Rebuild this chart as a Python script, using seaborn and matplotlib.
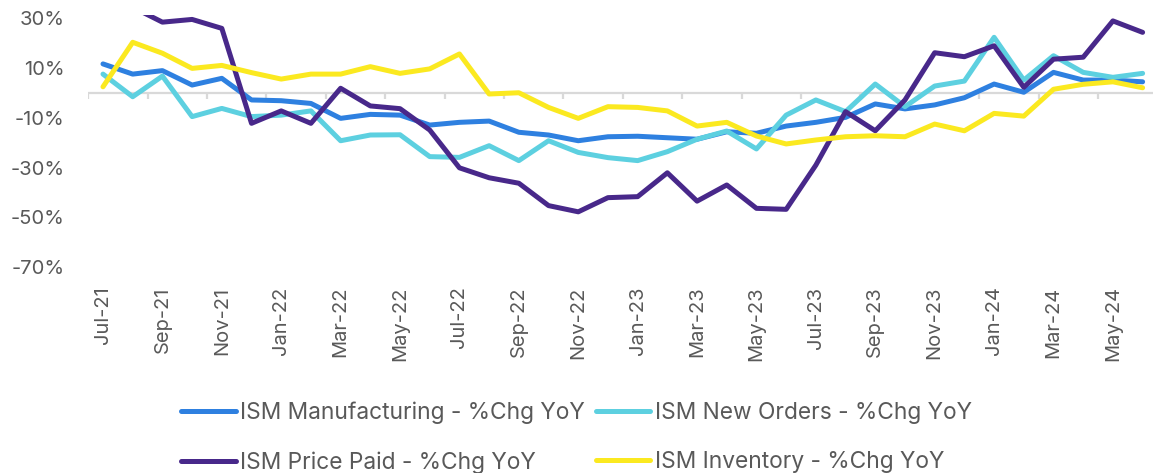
import matplotlib
matplotlib.use("Agg")
import matplotlib.pyplot as plt
import seaborn as sns
import pandas as pd
import numpy as np

months = ["Jul-21","Aug-21","Sep-21","Oct-21","Nov-21","Dec-21",
          "Jan-22","Feb-22","Mar-22","Apr-22","May-22","Jun-22",
          "Jul-22","Aug-22","Sep-22","Oct-22","Nov-22","Dec-22",
          "Jan-23","Feb-23","Mar-23","Apr-23","May-23","Jun-23",
          "Jul-23","Aug-23","Sep-23","Oct-23","Nov-23","Dec-23",
          "Jan-24","Feb-24","Mar-24","Apr-24","May-24","Jun-24"]

manufacturing = [11.7, 7.6, 9.0, 3.2, 5.9, -2.8, -3.1, -4.2, -10.2, -8.6, -8.9, -12.9,
                 -11.8, -11.3, -15.8, -16.9, -19.2, -17.6, -17.4, -18.0, -18.6, -15.6, -16.2, -13.3,
                 -11.8, -9.8, -4.4, -6.4, -4.8, -1.9, 3.6, 0.3, 8.3, 5.2, 5.2, 4.5]
new_orders = [7.6, -1.5, 6.8, -9.5, -6.2, -9.5, -8.9, -7.2, -19.2, -16.9, -16.8, -25.6,
              -25.9, -21.2, -27.2, -19.2, -23.9, -26.0, -27.2, -23.6, -18.6, -15.3, -22.5, -8.9,
              -2.8, -7.5, 3.6, -5.5, 2.8, 4.8, 22.4, 5.2, 15.0, 8.3, 6.3, 7.9]
price_paid = [45.0, 34.5, 28.5, 29.6, 26.0, -12.2, -7.2, -12.2, 1.9, -5.2, -6.3, -14.9,
              -30.1, -34.1, -36.3, -45.3, -47.8, -42.1, -41.7, -32.1, -43.5, -37.0, -46.4, -46.8,
              -29.0, -7.5, -15.2, -2.8, 16.2, 14.6, 19.0, 2.3, 13.6, 14.4, 29.0, 24.4]
inventory = [2.5, 20.4, 16.0, 9.9, 11.1, 8.2, 5.6, 7.6, 7.6, 10.6, 7.9, 9.7,
             15.7, -0.4, 0.1, -5.8, -10.2, -5.5, -5.8, -7.2, -13.3, -11.8, -17.3, -20.5,
             -18.9, -17.6, -17.2, -17.6, -12.5, -15.2, -8.2, -9.3, 1.5, 3.5, 4.5, 2.1]

series_names = ["ISM Manufacturing - %Chg YoY", "ISM New Orders - %Chg YoY",
                "ISM Price Paid - %Chg YoY", "ISM Inventory - %Chg YoY"]
series_values = [manufacturing, new_orders, price_paid, inventory]
colors = ["#2E80E0", "#5DD0E0", "#48288A", "#FBE920"]

y_ticks = [30, 10, -10, -30, -50, -70]

frames = []
for name, vals in zip(series_names, series_values):
    frames.append(pd.DataFrame({"idx": np.arange(len(months)), "value": vals, "series": name}))
df = pd.concat(frames, ignore_index=True)

sns.set_style("white")
plt.rcParams["font.family"] = ["Inter", "DejaVu Sans"]

W, H = 1153, 473
fig = plt.figure(figsize=(W / 100, H / 100), dpi=100)
left_px, right_px, top_px, bottom_px = 88.15, 1153, 14.7, 267
ax = fig.add_axes([left_px / W, 1 - bottom_px / H, (right_px - left_px) / W, (bottom_px - top_px) / H])

sns.lineplot(data=df, x="idx", y="value", hue="series", hue_order=series_names,
             palette=colors, linewidth=3.6, ax=ax, legend=False, sort=False, zorder=3)
for ln in ax.get_lines():
    ln.set_solid_capstyle("round")
    ln.set_solid_joinstyle("round")

ax.set_xlim(-0.5, 35.35)
ax.set_ylim(-70, 31.5)

ax.set_yticks(y_ticks)
ax.set_yticklabels([f"{t}%" for t in y_ticks])
label_idx = list(range(0, len(months), 2))
ax.set_xticks(label_idx)
ax.set_xticklabels([months[i] for i in label_idx], rotation=90, va="top", ha="center")
ax.tick_params(axis="both", length=0, labelsize=14.5, labelcolor="#595959")
ax.tick_params(axis="y", pad=17)
ax.tick_params(axis="x", pad=14)
for s in ax.spines.values():
    s.set_visible(False)
ax.set_xlabel("")
ax.set_ylabel("")
ax.grid(False)

# zero axis line with tick marks at every second category boundary
ymin, ymax = ax.get_ylim()
units_per_px = (ymax - ymin) / (bottom_px - top_px)
ax.axhline(0, color="#D9D9D9", linewidth=1.6, zorder=1)
boundaries = [i - 0.5 for i in range(0, len(months), 2)]
ax.vlines(boundaries, 0, -6 * units_per_px, color="#D9D9D9", linewidth=1.6, zorder=1)

handles = [plt.Line2D([], [], color=c, linewidth=3.6, solid_capstyle="round") for c in colors]
order = [0, 2, 1, 3]
leg = fig.legend([handles[i] for i in order], [series_names[i] for i in order],
                 ncol=2, loc="upper center", bbox_to_anchor=(0.5, 1 - 381 / H),
                 frameon=False, fontsize=16.4, handlelength=2.4, handletextpad=0.2,
                 columnspacing=0.45, labelspacing=1.2, labelcolor="#595959")

fig.savefig("out.png", dpi=100)
